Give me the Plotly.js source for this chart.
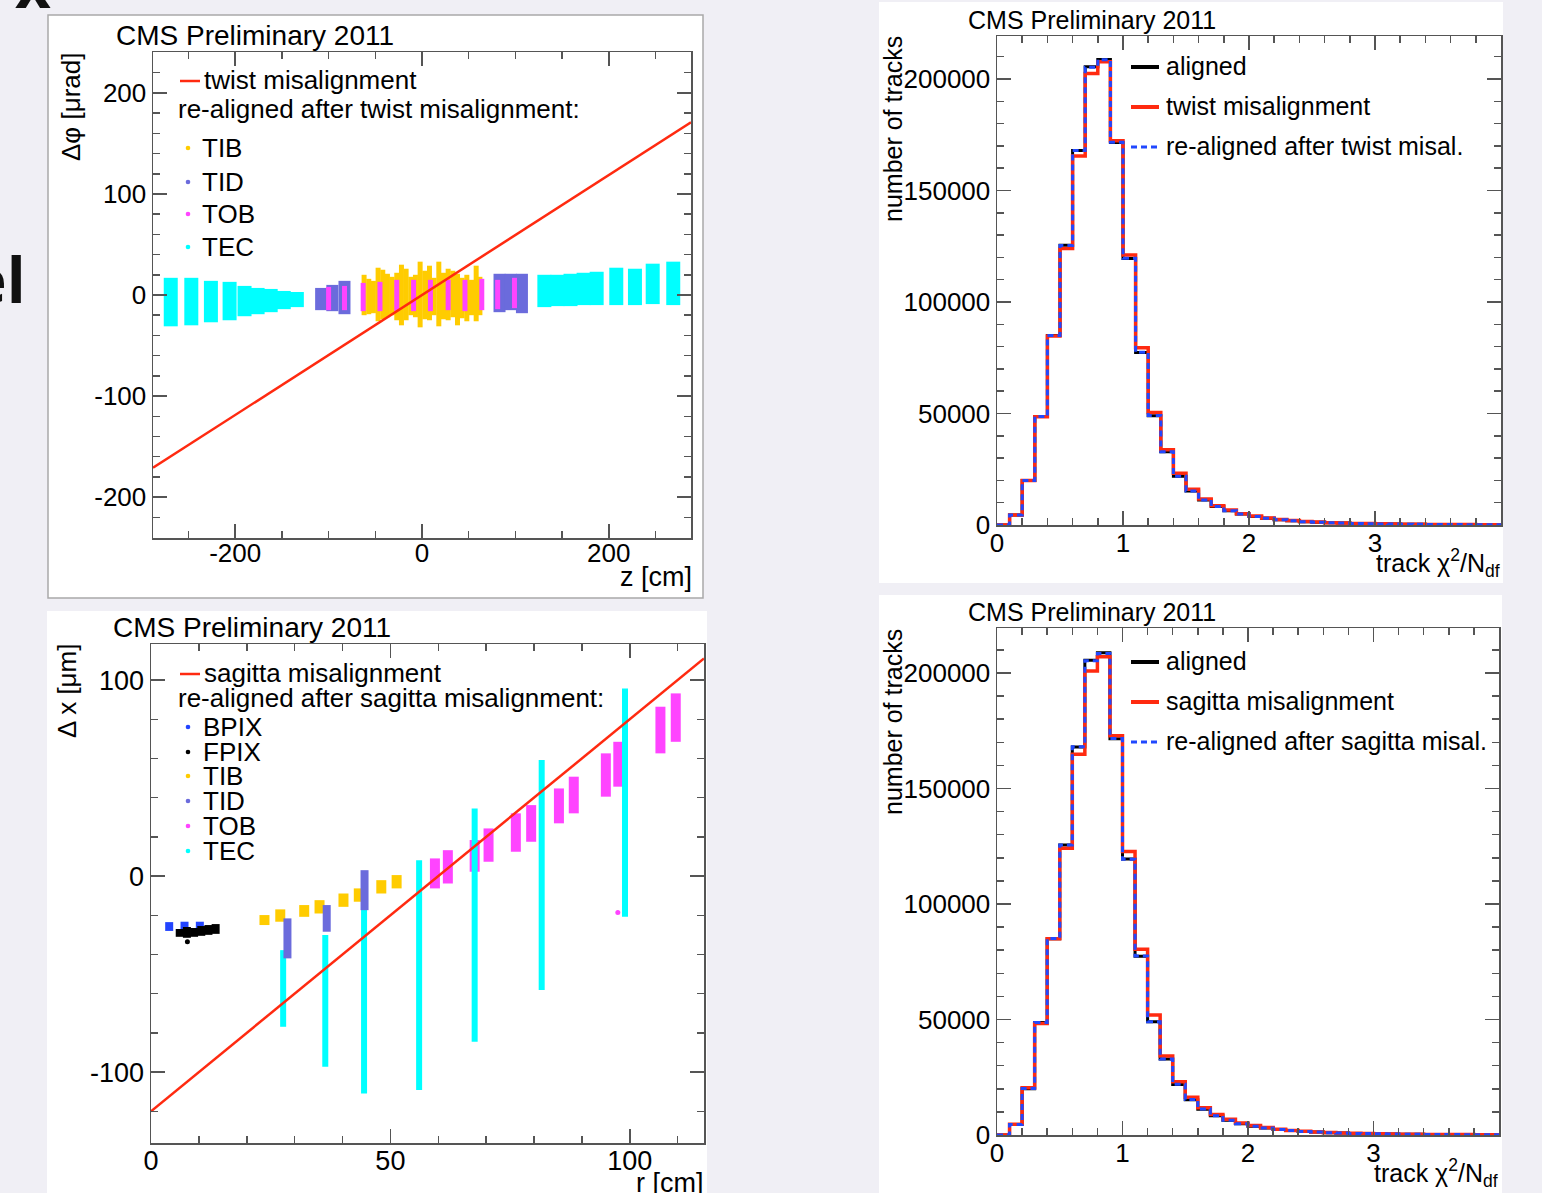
<!DOCTYPE html>
<html>
<head>
<meta charset="utf-8">
<script src="https://cdn.plot.ly/plotly-3.0.1.min.js"></script>
<style>
html,body{margin:0;padding:0;background:#f0eff5;}
#chart{width:1542px;height:1193px;}
</style>
</head>
<body>
<div id="chart"></div>
<script>
// ================= DATA =================
// --- top-left: twist misalignment, delta-phi [urad] vs z [cm] ---
const twistLineZ    = [-288, 288];
const twistLineDphi = [-171, 171];

const twTEC_z  = [-269, -247, -226, -206, -190, -176, -162, -148, -134, 131, 145, 159, 173, 187, 208, 228, 247, 269];
const twTEC_lo = [-31, -30, -27, -25, -21, -19, -17, -14, -12, -12, -11, -11, -10, -10, -10, -10, -9, -10];
const twTEC_hi = [17, 17, 14, 13, 9, 7, 6, 4, 3, 20, 20, 21, 22, 23, 27, 26, 31, 33];

const twTIB_z  = [-62, -57, -52, -47, -42, -37, -32, -27, -22, -17, -12, -7, -2, 3, 8, 13, 18, 23, 28, 33, 38, 43, 48, 53, 58, 62];
const twTIB_lo = [-20, -19, -18, -26, -24, -22, -20, -25, -30, -25, -20, -22, -32, -24, -25, -20, -31, -24, -25, -22, -30, -23, -26, -20, -26, -20];
const twTIB_hi = [20, 16, 14, 27, 25, 21, 18, 22, 30, 26, 18, 20, 33, 24, 29, 17, 33, 22, 26, 24, 21, 17, 20, 15, 29, 18];

const twTID_z  = [-108, -96, -83, 83, 95, 107];
const twTID_lo = [-15, -16, -19, -17, -15, -18];
const twTID_hi = [7, 10, 14, 21, 21, 21];

const twTOB_z  = [-100, -83, -63, -45, -27, -9, 9, 28, 46, 64, 81, 99];
const twTOB_lo = [-15, -15, -16, -16, -16, -16, -16, -15, -16, -15, -14, -13];
const twTOB_hi = [8, 9, 12, 13, 15, 15, 15, 15, 15, 16, 15, 17];

// --- bottom-left: sagitta misalignment, delta-x [um] vs r [cm] ---
const sagittaLineR  = [0, 115.5];
const sagittaLineDx = [-120, 111];

const sgBPIX_r  = [3.8, 7.0, 10.2];
const sgBPIX_lo = [-28, -29, -28.5];
const sgBPIX_hi = [-23.5, -23.3, -23.3];

const sgFPIX_r  = [6.0, 7.5, 9.0, 10.5, 12.0, 13.5];
const sgFPIX_lo = [-31, -31.5, -31, -30.5, -30, -29.5];
const sgFPIX_hi = [-27, -26, -26.5, -25.5, -25, -24.5];
const sgFPIXout_r = [7.6];
const sgFPIXout_dx = [-33.5];

const sgTIB_r  = [23.7, 27.0, 32.0, 35.2, 40.2, 43.4, 48.1, 51.3];
const sgTIB_lo = [-25, -23.3, -20.8, -19.1, -15.7, -13.1, -8.9, -6.3];
const sgTIB_hi = [-19.9, -17, -14.8, -12.3, -8.9, -6.3, -2.1, 0.5];

const sgTOB_r  = [59.3, 62.0, 67.6, 70.5, 76.2, 79.4, 85.2, 88.3, 95.0, 97.6, 106.4, 109.6];
const sgTOB_lo = [-6.3, -3.8, 2.2, 7.3, 12.4, 17.5, 26.9, 32, 40.5, 45.6, 62.6, 68.5];
const sgTOB_hi = [9, 13.2, 18.4, 24.3, 32, 36.2, 44.7, 50.7, 62.6, 68.5, 86.4, 93.2];
const sgTOBout_r = [97.5];
const sgTOBout_dx = [-18.6];

const sgTEC_r  = [27.6, 36.4, 44.5, 56.0, 67.6, 81.6, 99.0];
const sgTEC_lo = [-76.9, -97.3, -110.9, -109.2, -84.6, -58.2, -20.8];
const sgTEC_hi = [-37.8, -30.1, -8.9, 8.1, 34.5, 59.2, 95.7];

const sgTID_r  = [28.5, 36.7, 44.6];
const sgTID_lo = [-42, -28.4, -17.4];
const sgTID_hi = [-21.6, -14.8, 3];

// --- histograms: track chi2/Ndf, bins of 0.1 from 0 to 4 ---
const binWidth = 0.1;
const alignedCounts = [0, 4500, 20000, 48700, 85000, 125500, 168000, 205500, 208800, 171500,
  119500, 77400, 49000, 32900, 21900, 15300, 11200, 8300, 6400, 4900,
  3800, 3000, 2400, 1900, 1500, 1250, 1000, 850, 700, 600,
  500, 420, 360, 300, 260, 220, 190, 160, 140, 120];
const twistCounts = [0, 4500, 20000, 48500, 84800, 124000, 165500, 202500, 207800, 172300,
  121100, 79500, 50500, 33800, 23200, 16000, 11700, 8600, 6700, 5100,
  4000, 3100, 2500, 2000, 1600, 1300, 1050, 880, 720, 620,
  520, 440, 370, 310, 270, 230, 200, 170, 145, 125];
const twistRealignedCounts = [0, 4500, 20000, 48700, 85000, 125400, 167900, 205300, 208700, 171600,
  119600, 77500, 49100, 32900, 21900, 15300, 11200, 8300, 6400, 4900,
  3800, 3000, 2400, 1900, 1500, 1250, 1000, 850, 700, 600,
  500, 420, 360, 300, 260, 220, 190, 160, 140, 120];
const sagittaCounts = [0, 4600, 20500, 48300, 85000, 124100, 164800, 200900, 207100, 172900,
  122700, 80400, 51900, 34200, 23100, 16300, 11800, 8900, 6800, 5200,
  4100, 3200, 2500, 2000, 1600, 1300, 1050, 880, 730, 620,
  520, 440, 370, 310, 270, 230, 200, 170, 145, 125];
const sagittaRealignedCounts = [0, 4500, 20100, 48700, 85100, 125600, 168100, 205300, 208500, 171700,
  119400, 77500, 49000, 32900, 22000, 15400, 11300, 8300, 6400, 4900,
  3800, 3000, 2400, 1900, 1500, 1250, 1000, 850, 700, 600,
  500, 420, 360, 300, 260, 220, 190, 160, 140, 120];

// ================= HELPERS =================
const W = 1542, H = 1193;
const PX = x => x / W;
const PY = y => 1 - y / H;
const FONT = '"Liberation Sans", Arial, Helvetica, sans-serif';
const AXC = '#555';

function steps(a, b, s) {
  const out = [];
  for (let v = a; v <= b + 1e-9; v += s) out.push(Math.round(v * 1000) / 1000);
  return out;
}
function segments(xs, lo, hi) {
  const x = [], y = [];
  xs.forEach((v, i) => { x.push(v, v, null); y.push(lo[i], hi[i], null); });
  return { x, y };
}
function clusterTrace(xs, lo, hi, color, width, xa, ya) {
  const s = segments(xs, lo, hi);
  return { type: 'scatter', mode: 'lines', x: s.x, y: s.y, xaxis: xa, yaxis: ya,
    line: { color, width, simplify: false }, hoverinfo: 'skip', showlegend: false };
}
function lineTrace(xs, ys, color, width, xa, ya) {
  return { type: 'scatter', mode: 'lines', x: xs, y: ys, xaxis: xa, yaxis: ya,
    line: { color, width }, hoverinfo: 'skip', showlegend: false };
}
function dotTrace(xs, ys, color, xa, ya) {
  return { type: 'scatter', mode: 'markers', x: xs, y: ys, xaxis: xa, yaxis: ya,
    marker: { color, size: 5 }, hoverinfo: 'skip', showlegend: false };
}
function histTrace(counts, color, width, dash, xa, ya) {
  const x = counts.map((_, i) => Math.round(i * binWidth * 1000) / 1000);
  x.push(Math.round(counts.length * binWidth * 1000) / 1000);
  const y = counts.concat([counts[counts.length - 1]]);
  return { type: 'scatter', mode: 'lines', x, y, xaxis: xa, yaxis: ya,
    line: { shape: 'hv', color, width, dash }, hoverinfo: 'skip', showlegend: false };
}
function mkAxis(o) {
  const a = {
    domain: o.domain, range: o.range, anchor: o.anchor,
    tickmode: 'array', tickvals: o.vals, ticktext: o.vals.map(v => String(v)),
    ticks: 'inside', ticklen: 14, tickwidth: 1.5, tickcolor: AXC,
    minor: { tickmode: 'array', tickvals: o.minor, ticks: 'inside', ticklen: 7, tickwidth: 1.5, tickcolor: AXC },
    showline: true, linecolor: AXC, linewidth: 1.5, mirror: 'allticks',
    showgrid: false, zeroline: false, fixedrange: true,
    tickfont: { family: FONT, size: o.fs, color: '#000' }
  };
  if (o.standoff !== undefined) a.ticklabelstandoff = o.standoff;
  return a;
}

// ================= COLORS =================
const C_TIB = '#ffcc00', C_TID = '#6b6bdc', C_TOB = '#ff44ff', C_TEC = '#00ffff';
const C_BPIX = '#2244ff', C_FPIX = '#000000', C_RED = '#ff2a10', C_BLUE = '#2048ff';

// ================= TRACES =================
const data = [
  // top-left
  clusterTrace(twTEC_z, twTEC_lo, twTEC_hi, C_TEC, 14, 'x', 'y'),
  clusterTrace(twTIB_z, twTIB_lo, twTIB_hi, C_TIB, 5, 'x', 'y'),
  clusterTrace(twTID_z, twTID_lo, twTID_hi, C_TID, 12, 'x', 'y'),
  clusterTrace(twTOB_z, twTOB_lo, twTOB_hi, C_TOB, 5, 'x', 'y'),
  lineTrace(twistLineZ, twistLineDphi, C_RED, 2.5, 'x', 'y'),
  // bottom-left
  clusterTrace(sgBPIX_r, sgBPIX_lo, sgBPIX_hi, C_BPIX, 8, 'x2', 'y2'),
  clusterTrace(sgFPIX_r, sgFPIX_lo, sgFPIX_hi, C_FPIX, 8, 'x2', 'y2'),
  dotTrace(sgFPIXout_r, sgFPIXout_dx, C_FPIX, 'x2', 'y2'),
  clusterTrace(sgTIB_r, sgTIB_lo, sgTIB_hi, C_TIB, 10, 'x2', 'y2'),
  clusterTrace(sgTOB_r, sgTOB_lo, sgTOB_hi, C_TOB, 10, 'x2', 'y2'),
  dotTrace(sgTOBout_r, sgTOBout_dx, C_TOB, 'x2', 'y2'),
  clusterTrace(sgTEC_r, sgTEC_lo, sgTEC_hi, C_TEC, 6, 'x2', 'y2'),
  clusterTrace(sgTID_r, sgTID_lo, sgTID_hi, C_TID, 8, 'x2', 'y2'),
  lineTrace(sagittaLineR, sagittaLineDx, C_RED, 2.5, 'x2', 'y2'),
  // top-right
  histTrace(alignedCounts, '#000', 3, 'solid', 'x3', 'y3'),
  histTrace(twistCounts, C_RED, 3.5, 'solid', 'x3', 'y3'),
  histTrace(twistRealignedCounts, C_BLUE, 3, '6px,4px', 'x3', 'y3'),
  // bottom-right
  histTrace(alignedCounts, '#000', 3, 'solid', 'x4', 'y4'),
  histTrace(sagittaCounts, C_RED, 3.5, 'solid', 'x4', 'y4'),
  histTrace(sagittaRealignedCounts, C_BLUE, 3, '6px,4px', 'x4', 'y4')
];

// ================= LAYOUT =================
function txt(text, x, y, size, extra) {
  return Object.assign({ xref: 'paper', yref: 'paper', x: PX(x), y: PY(y), text, showarrow: false,
    xanchor: 'left', yanchor: 'middle', borderpad: 0,
    font: { family: FONT, size, color: '#000' } }, extra || {});
}
function rect(x0, y0, x1, y1, fill, lineColor, lw) {
  return { type: 'rect', xref: 'paper', yref: 'paper', layer: 'below',
    x0: PX(x0), x1: PX(x1), y0: PY(y1), y1: PY(y0), fillcolor: fill,
    line: { color: lineColor || 'rgba(0,0,0,0)', width: lw || 0 } };
}
function hline(x0, x1, y, color, width, dash) {
  return { type: 'line', xref: 'paper', yref: 'paper', x0: PX(x0), x1: PX(x1), y0: PY(y), y1: PY(y),
    line: { color, width, dash: dash || 'solid' } };
}
function dot(x, y, color) {
  return { type: 'circle', xref: 'paper', yref: 'paper', x0: PX(x - 2.3), x1: PX(x + 2.3),
    y0: PY(y + 2.3), y1: PY(y - 2.3), fillcolor: color, line: { width: 0 } };
}

const shapes = [
  rect(48, 15, 703, 598, '#ffffff', '#a9a9a9', 1.5),
  rect(47, 611, 707, 1200, '#ffffff'),
  rect(879, 2, 1503, 583, '#ffffff'),
  rect(879, 595, 1502, 1200, '#ffffff'),
  // top-left legend
  hline(180, 200, 81, C_RED, 2.5),
  dot(188, 148, C_TIB), dot(188, 182, C_TID), dot(188, 214, C_TOB), dot(188, 247, C_TEC),
  // bottom-left legend
  hline(180, 200, 674, C_RED, 2.5),
  dot(188, 727, C_BPIX), dot(188, 752, C_FPIX), dot(188, 776, C_TIB),
  dot(188, 801, C_TID), dot(188, 826, C_TOB), dot(188, 851, C_TEC),
  // top-right legend
  hline(1131, 1159, 67, '#000', 4),
  hline(1131, 1159, 107, C_RED, 4),
  hline(1131, 1159, 147, C_BLUE, 3, '6px,4px'),
  // bottom-right legend
  hline(1131, 1159, 662, '#000', 4),
  hline(1131, 1159, 702, C_RED, 4),
  hline(1131, 1159, 742, C_BLUE, 3, '6px,4px')
];

const annotations = [
  // slide fragments at the left edge
  txt('<b>x</b>', 14, -16, 62, { font: { family: '"Open Sans", "DejaVu Sans", sans-serif', size: 62, color: '#111' } }),
  txt('<b>el</b>', 27, 279, 62, { xanchor: 'right', font: { family: '"Open Sans", "DejaVu Sans", sans-serif', size: 62, color: '#111' } }),

  // top-left
  txt('CMS Preliminary 2011', 115, 36, 28),
  txt('twist misalignment', 203, 80, 26),
  txt('re-aligned after twist misalignment:', 177, 109, 26),
  txt('TIB', 201, 148, 26), txt('TID', 201, 182, 26), txt('TOB', 201, 214, 26), txt('TEC', 201, 247, 26),
  txt('Δφ [μrad]', 71, 52, 26, { textangle: -90, xanchor: 'center', yanchor: 'top' }),
  txt('z [cm]', 693, 577, 27, { xanchor: 'right' }),

  // bottom-left
  txt('CMS Preliminary 2011', 112, 627, 28),
  txt('sagitta misalignment', 203, 673, 26),
  txt('re-aligned after sagitta misalignment:', 177, 698, 26),
  txt('BPIX', 202, 727, 26), txt('FPIX', 202, 752, 26), txt('TIB', 202, 776, 26),
  txt('TID', 202, 801, 26), txt('TOB', 202, 826, 26), txt('TEC', 202, 851, 26),
  txt('Δ x [μm]', 67, 643, 26, { textangle: -90, xanchor: 'center', yanchor: 'top' }),
  txt('r [cm]', 705, 1183, 27, { xanchor: 'right' }),

  // top-right
  txt('CMS Preliminary 2011', 967, 20, 25),
  txt('aligned', 1165, 66, 25),
  txt('twist misalignment', 1165, 106, 25),
  txt('re-aligned after twist misal.', 1165, 146, 25),
  txt('number of tracks', 893, 35, 25, { textangle: -90, xanchor: 'center', yanchor: 'top' }),
  txt('track χ<sup>2</sup>/N<sub>df</sub>', 1501, 563, 25, { xanchor: 'right' }),

  // bottom-right
  txt('CMS Preliminary 2011', 967, 612, 25),
  txt('aligned', 1165, 661, 25),
  txt('sagitta misalignment', 1165, 701, 25),
  txt('re-aligned after sagitta misal.', 1165, 741, 25),
  txt('number of tracks', 893, 628, 25, { textangle: -90, xanchor: 'center', yanchor: 'top' }),
  txt('track χ<sup>2</sup>/N<sub>df</sub>', 1499, 1173, 25, { xanchor: 'right' })
];

const layout = {
  width: W, height: H,
  margin: { l: 0, r: 0, t: 0, b: 0, pad: 0 },
  paper_bgcolor: '#f0eff5',
  plot_bgcolor: 'rgba(0,0,0,0)',
  showlegend: false,
  font: { family: FONT, color: '#000' },
  xaxis: mkAxis({ domain: [PX(153), PX(691)], range: [-288, 288], anchor: 'y',
    vals: [-200, 0, 200], minor: steps(-250, 250, 50), fs: 26, standoff: -9 }),
  yaxis: mkAxis({ domain: [PY(538), PY(52)], range: [-240.5, 240.5], anchor: 'x',
    vals: [-200, -100, 0, 100, 200], minor: steps(-220, 220, 20), fs: 26 }),
  xaxis2: mkAxis({ domain: [PX(151), PX(704)], range: [0, 115.5], anchor: 'y2',
    vals: [0, 50, 100], minor: steps(10, 110, 10), fs: 27, standoff: -7 }),
  yaxis2: mkAxis({ domain: [PY(1143), PY(644)], range: [-136.2, 118.4], anchor: 'x2',
    vals: [-100, 0, 100], minor: steps(-120, 100, 20), fs: 27 }),
  xaxis3: mkAxis({ domain: [PX(997), PX(1501)], range: [0, 4], anchor: 'y3',
    vals: [0, 1, 2, 3], minor: steps(0.2, 3.8, 0.2), fs: 26, standoff: -6 }),
  yaxis3: mkAxis({ domain: [PY(525), PY(36)], range: [0, 219300], anchor: 'x3',
    vals: [0, 50000, 100000, 150000, 200000], minor: steps(10000, 210000, 10000), fs: 26 }),
  xaxis4: mkAxis({ domain: [PX(997), PX(1499)], range: [0, 4], anchor: 'y4',
    vals: [0, 1, 2, 3], minor: steps(0.2, 3.8, 0.2), fs: 26, standoff: -6 }),
  yaxis4: mkAxis({ domain: [PY(1135), PY(628)], range: [0, 219500], anchor: 'x4',
    vals: [0, 50000, 100000, 150000, 200000], minor: steps(10000, 210000, 10000), fs: 26 }),
  shapes, annotations
};

Plotly.newPlot('chart', data, layout, { displayModeBar: false, staticPlot: true, responsive: false });
</script>
</body>
</html>
